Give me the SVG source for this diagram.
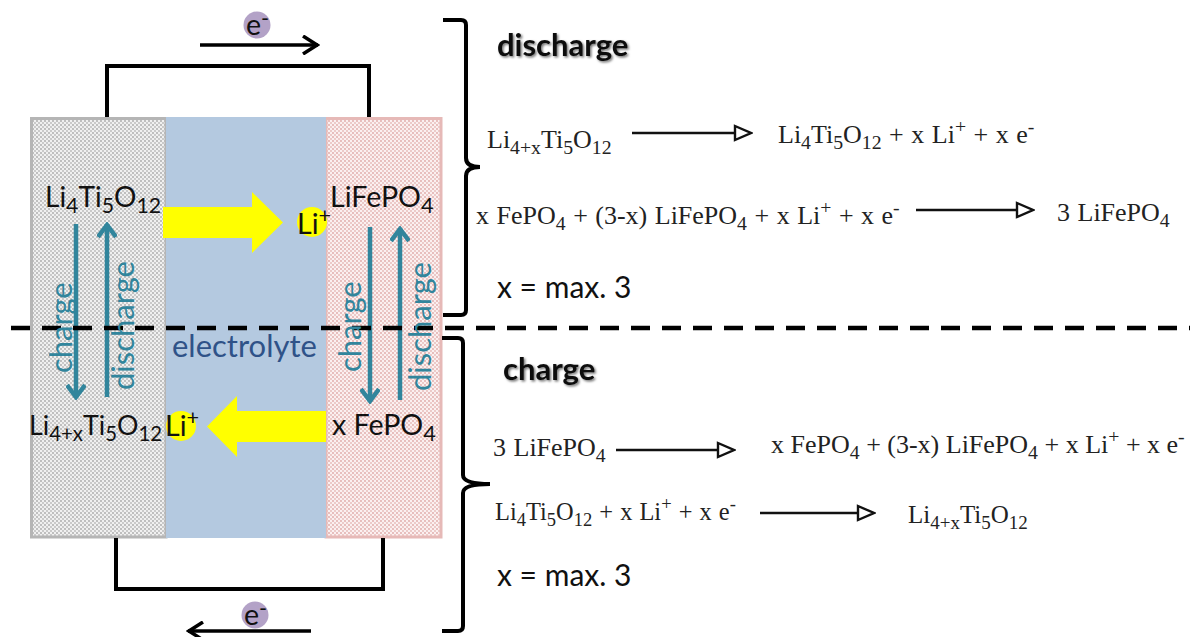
<svg xmlns="http://www.w3.org/2000/svg" width="1190" height="637" viewBox="0 0 1190 637">
<style>
.w{fill:none;stroke:#000;stroke-width:4}
.t{fill:none;stroke:#31859c;stroke-width:4.5}
.c{font-family:Lato,"Open Sans",sans-serif;fill:#111;font-size:28.600px}
.m{font-family:Lato,"Open Sans",sans-serif;fill:#111;font-size:30px}
.tl{font-family:Lato,"Open Sans",sans-serif;fill:#31859c;font-size:31px}
.h{font-family:Lato,"Open Sans",sans-serif;fill:#111;font-size:31px;font-weight:700;filter:url(#sh)}
.e{font-family:"Liberation Serif","Times New Roman",serif;fill:#222;font-size:26px;word-spacing:1px}
.a{fill:none;stroke:#111;stroke-width:2.4}
.s{font-size:76%}
</style>
<defs>
<pattern id="pg" width="4" height="4" patternUnits="userSpaceOnUse"><rect width="4" height="4" fill="#f0f0f0"/><circle cx="1" cy="1" r="0.900" fill="#a8a8a8"/><circle cx="3" cy="3" r="0.900" fill="#b8b8b8"/></pattern>
<pattern id="pr" width="4" height="4" patternUnits="userSpaceOnUse"><rect width="4" height="4" fill="#fbf0f0"/><circle cx="1" cy="1" r="0.900" fill="#dfa8a6"/><circle cx="3" cy="3" r="0.900" fill="#e6b9b7"/></pattern>
<filter id="sh" x="-10%" y="-20%" width="120%" height="150%"><feDropShadow dx="1.5" dy="1.5" stdDeviation="1.2" flood-color="#000" flood-opacity="0.55"/></filter>
<marker id="chev" viewBox="0 0 20 20" refX="18" refY="10" markerWidth="20" markerHeight="20" markerUnits="userSpaceOnUse" orient="auto"><path d="M3 1 L17 10 L3 19" fill="none" stroke="#000" stroke-width="3.5"/></marker>
<marker id="tchev" viewBox="0 0 20 20" refX="18" refY="10" markerWidth="20" markerHeight="20" markerUnits="userSpaceOnUse" orient="auto"><path d="M5 1 L17 10 L5 19" fill="none" stroke="#31859c" stroke-width="4.5"/></marker>
<marker id="tri" viewBox="0 0 20 18" refX="2" refY="9" markerWidth="20" markerHeight="18" markerUnits="userSpaceOnUse" orient="auto"><path d="M2 2 L18 9 L2 16 Z" fill="#fff" stroke="#111" stroke-width="2.4"/></marker>
</defs>
<rect width="1190" height="637" fill="#fff"/>

<g id="anode"><rect x="31.500" y="118.500" width="134.500" height="418.500" fill="url(#pg)" stroke="#b5b5b5" stroke-width="3"/></g>
<g id="cathode"><rect x="326" y="118.500" width="115" height="418.500" fill="url(#pr)" stroke="#e6b9b7" stroke-width="3"/></g>
<g id="electrolyte"><rect x="166" y="117" width="160" height="421" fill="#b4c9e0"/>
<text x="172" y="357" style="font-family:Lato,'Open Sans',sans-serif;fill:#2f5288;font-size:31px">electrolyte</text></g>

<g id="connectors">
<path class="w" d="M107 117V66H369V117"/>
<path class="w" d="M116 538V589H383V538"/>
<path d="M200 45H318" fill="none" stroke="#000" stroke-width="3.500" marker-end="url(#chev)"/>
<path d="M311 631H188" fill="none" stroke="#000" stroke-width="3.500" marker-end="url(#chev)"/>
<path class="t" d="M76 224V398" marker-end="url(#tchev)"/>
<path class="t" d="M107 397V224" marker-end="url(#tchev)"/>
<path class="t" d="M370 227V402" marker-end="url(#tchev)"/>
<path class="t" d="M400 400V228" marker-end="url(#tchev)"/>
<path d="M163 207H252V192L283 222.500L252 253V238H163Z" fill="#ff0"/>
<path d="M326 411H237V396L207 426.500L237 457V442H326Z" fill="#ff0"/>
<path d="M11 328H1190" fill="none" stroke="#000" stroke-width="4.500" stroke-dasharray="19 12"/>
<path class="a" style="stroke-width:4;stroke:#000" d="M443 20H461Q466 20 466 25V158Q466 167 480 167Q466 167 466 176V310Q466 315 461 315H443"/>
<path class="a" style="stroke-width:4;stroke:#000" d="M442 338H458Q463 338 463 343V475Q463 484 490 484Q463 484 463 493V626Q463 631 458 631H442"/>
<path class="a" d="M632 133H735" marker-end="url(#tri)"/>
<path class="a" d="M916 210H1017" marker-end="url(#tri)"/>
<path class="a" d="M616 450H718" marker-end="url(#tri)"/>
<path class="a" d="M760 513H858" marker-end="url(#tri)"/>
</g>

<g id="electron-top"><circle cx="257" cy="25" r="13.500" fill="#b3a2c7"/><text x="246" y="35" class="c">e<tspan class="s" dy="-9">-</tspan></text></g>
<g id="electron-bottom"><circle cx="255" cy="615" r="13.500" fill="#b3a2c7"/><text x="244" y="625" class="c">e<tspan class="s" dy="-9">-</tspan></text></g>
<g id="li-top"><circle cx="312" cy="222" r="15" fill="#ff0"/><text x="297" y="234" class="c">Li<tspan class="s" dy="-11">+</tspan></text></g>
<g id="li-bottom"><circle cx="181" cy="426" r="15" fill="#ff0"/><text x="165" y="436" class="c">Li<tspan class="s" dy="-11">+</tspan></text></g>

<g id="label-lto"><text x="45" y="207" class="c" style="font-size:28px">Li<tspan class="s" dy="6">4</tspan><tspan dy="-6">Ti</tspan><tspan class="s" dy="6">5</tspan><tspan dy="-6">O</tspan><tspan class="s" dy="6">12</tspan></text></g>
<g id="label-lfp"><text x="330" y="207" class="c">LiFePO<tspan class="s" dy="6">4</tspan></text></g>
<g id="label-ltox"><text x="29" y="435" class="c" style="font-size:26.800px">Li<tspan class="s" dy="6">4+x</tspan><tspan dy="-6">Ti</tspan><tspan class="s" dy="6">5</tspan><tspan dy="-6">O</tspan><tspan class="s" dy="6">12</tspan></text></g>
<g id="label-fp"><text x="332" y="435" class="c">x FePO<tspan class="s" dy="6">4</tspan></text></g>

<g id="side-labels">
<text transform="translate(72 373) rotate(-90)" class="tl">charge</text>
<text transform="translate(134 390) rotate(-90)" class="tl">discharge</text>
<text transform="translate(361 372) rotate(-90)" class="tl">charge</text>
<text transform="translate(431 391) rotate(-90)" class="tl">discharge</text>
</g>

<g id="discharge-eq">
<text x="497" y="56" class="h">discharge</text>
<text x="487" y="148" class="e">Li<tspan class="s" dy="6">4+x</tspan><tspan dy="-6">Ti</tspan><tspan class="s" dy="6">5</tspan><tspan dy="-6">O</tspan><tspan class="s" dy="6">12</tspan></text>
<text x="778" y="143" class="e">Li<tspan class="s" dy="6">4</tspan><tspan dy="-6">Ti</tspan><tspan class="s" dy="6">5</tspan><tspan dy="-6">O</tspan><tspan class="s" dy="6">12</tspan><tspan dy="-6"> + x Li</tspan><tspan class="s" dy="-10">+</tspan><tspan dy="10"> + x e</tspan><tspan class="s" dy="-10">-</tspan></text>
<text x="476" y="224" class="e">x FePO<tspan class="s" dy="6">4</tspan><tspan dy="-6"> + (3-x) LiFePO</tspan><tspan class="s" dy="6">4</tspan><tspan dy="-6"> + x Li</tspan><tspan class="s" dy="-10">+</tspan><tspan dy="10"> + x e</tspan><tspan class="s" dy="-10">-</tspan></text>
<text x="1057" y="221" class="e">3 LiFePO<tspan class="s" dy="6">4</tspan></text>
<text x="497" y="298" class="m">x = max. 3</text>
</g>

<g id="charge-eq">
<text x="503" y="380" class="h">charge</text>
<text x="493" y="456" class="e">3 LiFePO<tspan class="s" dy="6">4</tspan></text>
<text x="771" y="453" class="e" style="word-spacing:0">x FePO<tspan class="s" dy="6">4</tspan><tspan dy="-6"> + (3-x) LiFePO</tspan><tspan class="s" dy="6">4</tspan><tspan dy="-6"> + x Li</tspan><tspan class="s" dy="-10">+</tspan><tspan dy="10"> + x e</tspan><tspan class="s" dy="-10">-</tspan></text>
<text x="495" y="520" class="e" style="font-size:24.400px">Li<tspan class="s" dy="6">4</tspan><tspan dy="-6">Ti</tspan><tspan class="s" dy="6">5</tspan><tspan dy="-6">O</tspan><tspan class="s" dy="6">12</tspan><tspan dy="-6"> + x Li</tspan><tspan class="s" dy="-10">+</tspan><tspan dy="10"> + x e</tspan><tspan class="s" dy="-10">-</tspan></text>
<text x="908" y="523" class="e" style="font-size:25px">Li<tspan class="s" dy="6">4+x</tspan><tspan dy="-6">Ti</tspan><tspan class="s" dy="6">5</tspan><tspan dy="-6">O</tspan><tspan class="s" dy="6">12</tspan></text>
<text x="497" y="586" class="m">x = max. 3</text>
</g>
</svg>
